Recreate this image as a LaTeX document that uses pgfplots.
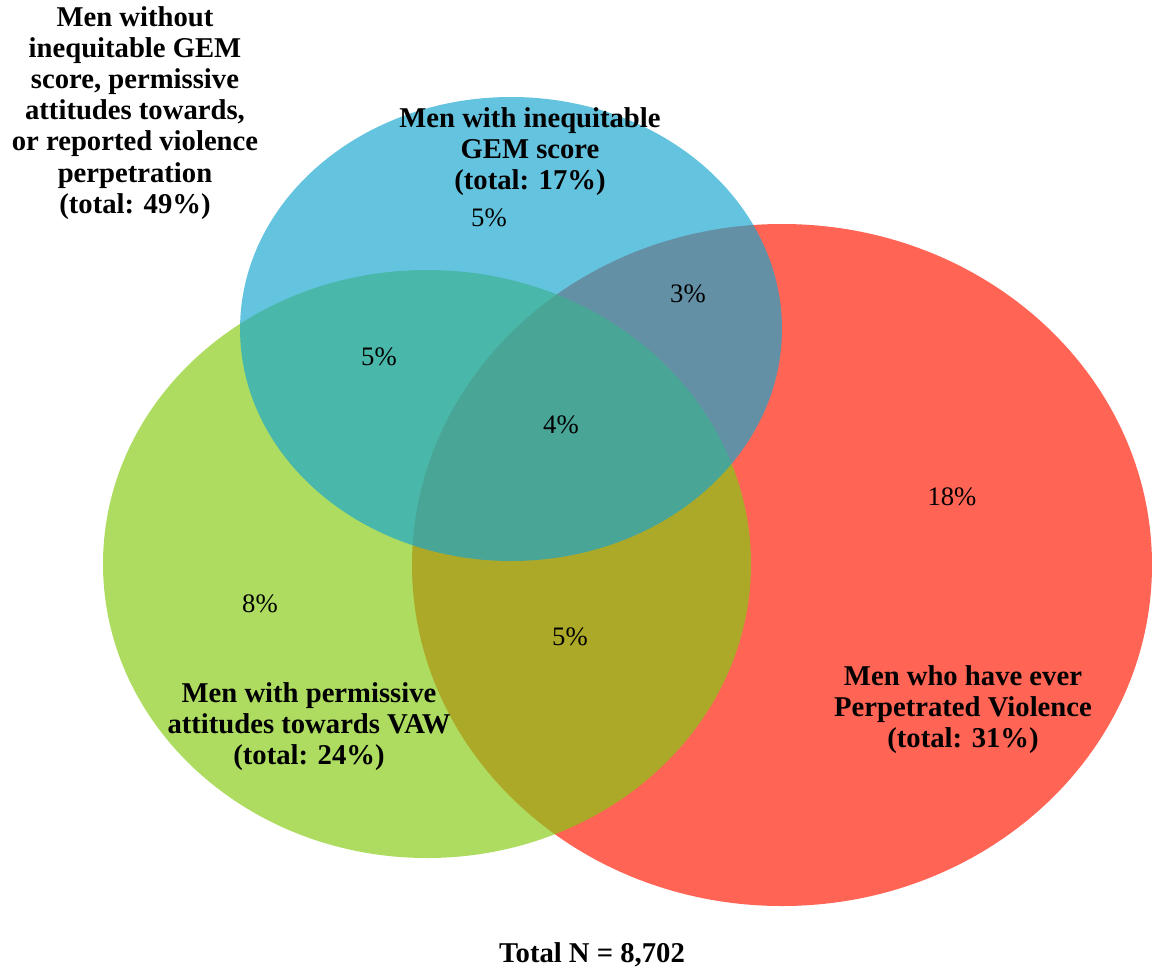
\documentclass[border=0pt]{standalone}
\usepackage{fontspec}
\setmainfont{Liberation Serif}
\usepackage{pgfplots}
\pgfplotsset{compat=1.18}

\definecolor{vred}{RGB}{255,100,85}
\definecolor{vgreen}{RGB}{134,203,18}
\definecolor{vblue}{RGB}{24,166,206}

% one pixel of the reference = 0.75pt
\newcommand{\lab}{\fontsize{21.5}{23.3}\selectfont\bfseries}
\newcommand{\pct}{\fontsize{20}{22}\selectfont}

\begin{document}
\begin{tikzpicture}
  \begin{axis}[
    scale only axis,
    width=864pt, height=727.5pt,
    xmin=0, xmax=1152,
    ymin=0, ymax=970,
    y dir=reverse,
    hide axis,
    clip=false,
  ]

  % circles: centre in pixels, radii set through mark size (pt) and xscale
  \addplot[only marks, mark=*, draw=none,
    mark size=255.75pt,
    mark options={xscale=1.085, draw=none, draw opacity=0, fill=vred}]
  coordinates {(782,565)};

  \addplot[only marks, mark=*, draw=none,
    mark size=220.5pt,
    mark options={xscale=1.102, draw=none, draw opacity=0, fill=vgreen, fill opacity=0.67}]
  coordinates {(427,564)};

  \addplot[only marks, mark=*, draw=none,
    mark size=174pt,
    mark options={xscale=1.168, draw=none, draw opacity=0, fill=vblue, fill opacity=0.67}]
  coordinates {(511,329)};

  % anchor points for the text, which is set on top after the axis
  \coordinate (l49) at (axis cs:135,113);
  \coordinate (l17) at (axis cs:530,152);
  \coordinate (l24) at (axis cs:309,727);
  \coordinate (l31) at (axis cs:963,710);
  \coordinate (ltot) at (axis cs:592,955);
  \coordinate (p1) at (axis cs:489,218);
  \coordinate (p2) at (axis cs:688,294);
  \coordinate (p3) at (axis cs:379,357);
  \coordinate (p4) at (axis cs:561,425);
  \coordinate (p5) at (axis cs:952,497);
  \coordinate (p6) at (axis cs:260,604);
  \coordinate (p7) at (axis cs:570,637);
  \end{axis}

  \node[align=center, font=\lab] at (l49)
    {Men without\\inequitable GEM\\score, permissive\\attitudes towards,\\or reported violence\\perpetration\\(total: 49\%)};
  \node[align=center, font=\lab] at (l17)
    {Men with inequitable\\GEM score\\(total: 17\%)};
  \node[align=center, font=\lab] at (l24)
    {Men with permissive\\attitudes towards VAW\\(total: 24\%)};
  \node[align=center, font=\lab] at (l31)
    {Men who have ever\\Perpetrated Violence\\(total: 31\%)};
  \node[font=\lab] at (ltot) {Total N = 8,702};

  \node[font=\pct] at (p1) {5\%};
  \node[font=\pct] at (p2) {3\%};
  \node[font=\pct] at (p3) {5\%};
  \node[font=\pct] at (p4) {4\%};
  \node[font=\pct] at (p5) {18\%};
  \node[font=\pct] at (p6) {8\%};
  \node[font=\pct] at (p7) {5\%};

  \pgfresetboundingbox
  \path (0,0) rectangle (864pt,727.5pt);
\end{tikzpicture}
\end{document}
